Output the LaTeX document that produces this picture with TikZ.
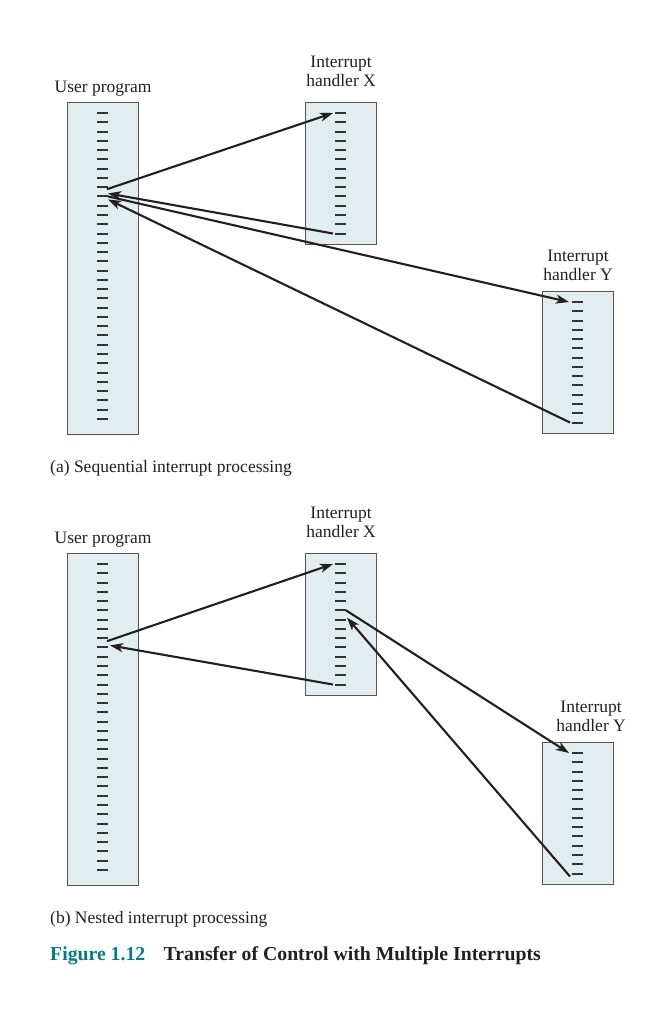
\documentclass[tikz,border=0pt]{standalone}
\usepackage{fontspec}
\setmainfont{Liberation Serif}
\usetikzlibrary{arrows.meta,positioning,calc}
\definecolor{boxfill}{RGB}{226,237,240}
\definecolor{boxline}{RGB}{85,85,85}
\definecolor{inkgray}{RGB}{35,31,32}
\definecolor{figteal}{RGB}{0,128,133}

% short dashes down a program box: box name, last tick index
\newcommand{\drawticks}[2]{%
  \foreach \k in {0,...,#2} {
    \coordinate (#1-l\k) at ($(#1.north west)+(30,11+9.27*\k)$);
    \coordinate (#1-r\k) at ($(#1.north west)+(41,11+9.27*\k)$);
    \draw[tick] (#1-l\k) -- (#1-r\k);
  }%
}

\begin{document}
\begin{tikzpicture}[
  x=1pt, y=-1pt,
  prog/.style={draw=boxline, fill=boxfill, line width=1.2pt, minimum width=71pt,
               inner sep=0pt, anchor=north west},
  tick/.style={draw=boxline!60!black, line width=2pt},
  arr/.style={-{Stealth[length=13pt,width=9pt,inset=3.5pt]}, line width=2.1pt, draw=inkgray},
  lbl/.style={font=\fontsize{17.5}{19}\selectfont, text=inkgray, align=center, inner sep=0pt},
  figlbl/.style={font=\fontsize{19.75}{22}\selectfont\bfseries, inner sep=0pt, anchor=base west}
]
\useasboundingbox (0,0) rectangle (667,1023);

% (a) sequential
\node[prog, minimum height=332pt] (usera) at (67,102) {};
\node[prog, minimum height=142pt] (hxa) at (305,102) {};
\node[prog, minimum height=142pt] (hya) at (542,291) {};
\drawticks{usera}{33}
\drawticks{hxa}{13}
\drawticks{hya}{13}
\node[lbl, above=6pt of usera] (usera-lbl) {User program};
\node[lbl, above=15pt of hxa] (hxa-lbl) {Interrupt\\handler X};
\node[lbl, above=10pt of hya] (hya-lbl) {Interrupt\\handler Y};

\draw[arr] ($(usera-r8)+(-1,2)$) -- ($(hxa-l0)+(-2,0)$);
\draw[arr] ($(hxa-l13)+(-2,0)$) -- ($(usera-r9)+(0,-3)$);
\draw[arr] (usera-r9) -- ($(hya-l0)+(-3,0)$);
\draw[arr] ($(hya-l13)+(-2,0)$) -- ($(usera-r9)+(0,3)$);

\node[lbl, anchor=base west] (capa) at (50,472) {(a) Sequential interrupt processing};

% (b) nested
\node[prog, minimum height=332pt] (userb) at (67,553) {};
\node[prog, minimum height=142pt] (hxb) at (305,553) {};
\node[prog, minimum height=142pt] (hyb) at (542,742) {};
\drawticks{userb}{33}
\drawticks{hxb}{13}
\drawticks{hyb}{13}
\node[lbl, above=6pt of userb] (userb-lbl) {User program};
\node[lbl, above=15pt of hxb] (hxb-lbl) {Interrupt\\handler X};
\node[lbl, above=10pt of hyb, xshift=13pt] (hyb-lbl) {Interrupt\\handler Y};

\draw[arr] ($(userb-r8)+(-1,3)$) -- ($(hxb-l0)+(-2,0)$);
\draw[arr] ($(hxb-l13)+(-2,0)$) -- ($(userb-r9)+(2,-2)$);
\draw[arr] (hxb-r5) -- ($(hyb-l0)+(-3,0)$);
\draw[arr] ($(hyb-l13)+(-2,3)$) -- ($(hxb-r6)+(1,-2)$);

\node[lbl, anchor=base west] (capb) at (50,923) {(b) Nested interrupt processing};

% figure caption
\node[figlbl, text=figteal] (fignum) at (50,960) {Figure 1.12};
\node[figlbl, text=inkgray] (figtitle) at ($(fignum.base east)+(18,0)$) {Transfer of Control with Multiple Interrupts};
\end{tikzpicture}
\end{document}
